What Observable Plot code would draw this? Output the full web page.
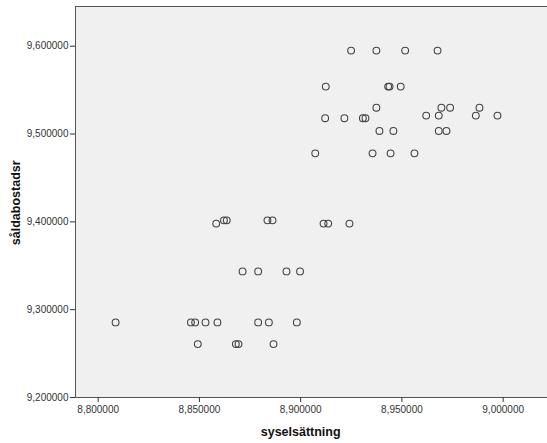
<!DOCTYPE html>
<html><head><meta charset="utf-8">
<script src="https://cdn.jsdelivr.net/npm/d3@7"></script>
<script src="https://cdn.jsdelivr.net/npm/@observablehq/plot@0.6"></script>
<style>body{margin:0;background:#fff;} svg{display:block;}</style>
</head><body><div id="chart"></div>
<script>
const syselsattning = [
  8.9249, 8.9374, 8.9516, 8.9676,
  8.9124, 8.9432, 8.9439, 8.9494,
  8.9374, 8.9695, 8.9738, 8.9883,
  8.9620, 8.9682, 8.9865, 8.9972,
  8.9121, 8.9216, 8.9307, 8.9320,
  8.9389, 8.9458, 8.9682, 8.9720,
  8.9072, 8.9355, 8.9444, 8.9562,
  8.8621, 8.8635, 8.8836, 8.8861,
  8.8583, 8.9113, 8.9136, 8.9241,
  8.8713, 8.8790, 8.8930, 8.8997,
  8.8086, 8.8458, 8.8479, 8.8530, 8.8589, 8.8790, 8.8843, 8.8981,
  8.8492, 8.8680, 8.8693, 8.8866
];
const saldabostadsr = [
  9.595, 9.595, 9.595, 9.595,
  9.554, 9.554, 9.554, 9.554,
  9.530, 9.530, 9.530, 9.530,
  9.521, 9.521, 9.521, 9.521,
  9.518, 9.518, 9.518, 9.518,
  9.5035, 9.5035, 9.5035, 9.5035,
  9.478, 9.478, 9.478, 9.478,
  9.4017, 9.4017, 9.4017, 9.4017,
  9.398, 9.398, 9.398, 9.398,
  9.3436, 9.3436, 9.3436, 9.3436,
  9.2855, 9.2855, 9.2855, 9.2855, 9.2855, 9.2855, 9.2855, 9.2855,
  9.2608, 9.2608, 9.2608, 9.2608
];
const xTicks = [8.80, 8.85, 8.90, 8.95, 9.00];
const yTicks = [9.20, 9.30, 9.40, 9.50, 9.60];
const xDomain = [8.7888, 9.0219];
const yDomain = [9.20, 9.6452];

const data = syselsattning.map((x, i) => ({x, y: saldabostadsr[i]}));
const fmt = v => v.toFixed(6).replace(".", ",");

const chart = Plot.plot({
  width: 547, height: 443,
  marginLeft: 75, marginRight: 0, marginTop: 6, marginBottom: 46,
  style: {fontFamily: "Liberation Sans, Arial, sans-serif", background: "#fff"},
  x: {domain: xDomain},
  y: {domain: yDomain},
  marks: [
    Plot.frame({fill: "#f0f0f0", stroke: null}),
    Plot.ruleY([yDomain[0], yDomain[1]], {stroke: "#555", strokeWidth: 1}),
    Plot.ruleX([xDomain[0]], {stroke: "#555", strokeWidth: 1}),
    Plot.axisX({ticks: xTicks, tickFormat: fmt, tickSize: 5, tickPadding: 3, fontSize: 10, color: "#333", label: null}),
    Plot.axisY({ticks: yTicks, tickFormat: fmt, tickSize: 5, tickPadding: 2, fontSize: 10, color: "#333", label: null}),
    Plot.dot(data, {x: "x", y: "y", r: 3.4, stroke: "#444", strokeWidth: 1.1, fill: "none"}),
    Plot.text(["syselsättning"], {frameAnchor: "bottom", x: () => 8.9, dy: 38, textAnchor: "middle", fontWeight: "bold", fontSize: 12.5, fill: "#111"}),
    Plot.text(["såldabostadsr"], {x: () => xDomain[0], y: () => 9.4217, dx: -60, textAnchor: "middle", rotate: -90, fontWeight: "bold", fontSize: 12.5, fill: "#111"})
  ]
});
document.getElementById("chart").appendChild(chart);
</script>
</body></html>
